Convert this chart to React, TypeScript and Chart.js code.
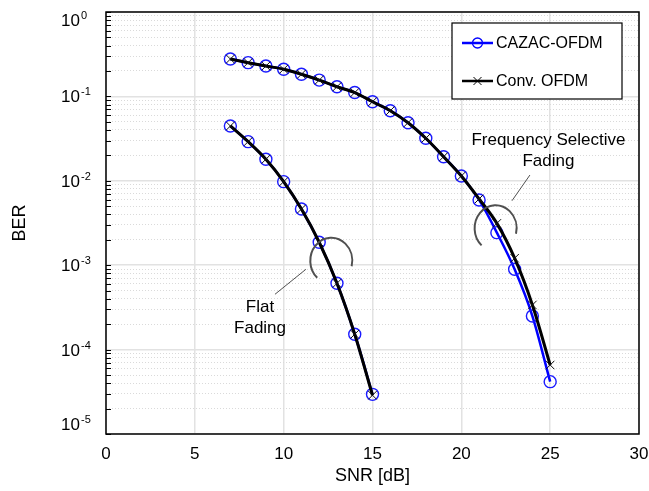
import React, { useEffect, useRef } from 'react';
import { Chart, registerables } from 'chart.js';

Chart.register(...registerables);

// ---------- data ----------
const snrFreqSel = [7, 8, 9, 10, 11, 12, 13, 14, 15, 16, 17, 18, 19, 20, 21, 22, 23, 24, 25];
const cazacFreqSel = [0.277, 0.251, 0.229, 0.21, 0.183, 0.156, 0.13, 0.111, 0.0865, 0.0677, 0.0488, 0.0319, 0.0193, 0.0114, 0.00593, 0.00243, 0.000894, 0.00025, 0.0000417];
const convFreqSel = [0.277, 0.251, 0.229, 0.21, 0.183, 0.156, 0.13, 0.111, 0.0865, 0.0677, 0.0488, 0.0319, 0.0193, 0.0114, 0.0061, 0.00313, 0.00121, 0.000338, 0.0000657];

const snrFlat = [7, 8, 9, 10, 11, 12, 13, 14, 15];
const cazacFlat = [0.0446, 0.0291, 0.018, 0.00977, 0.00463, 0.00187, 0.00061, 0.000152, 0.0000295];
const convFlat = [0.0446, 0.0291, 0.018, 0.00977, 0.00463, 0.00187, 0.00061, 0.000152, 0.0000288];

const xTickValues = [0, 5, 10, 15, 20, 25, 30];
const yDecadeExponents = [0, -1, -2, -3, -4, -5];
const yMantissas = [1, 2, 3, 4, 5, 6, 7, 8, 9];

const seriesNames = ['CAZAC-OFDM', 'Conv. OFDM'];
const xTitle = 'SNR [dB]';
const yTitle = 'BER';
const freqLabel = ['Frequency Selective', 'Fading'];
const flatLabel = ['Flat', 'Fading'];

// annotation anchors in data units
const freqTextAnchor = { x: 24.9, y: 0.0304 };
const freqLeader = [{ x: 23.86, y: 0.0117 }, { x: 22.85, y: 0.0058 }];
const freqArcCenter = { x: 21.93, y: 0.00274 };
const flatTextAnchor = { x: 8.67, y: 0.00032 };
const flatLeader = [{ x: 11.25, y: 0.000894 }, { x: 9.51, y: 0.000452 }];
const flatArcCenter = { x: 12.68, y: 0.00113 };

const FONT = '"Liberation Sans", Arial, Helvetica, sans-serif';
const BLUE = '#0000ff';
const BLACK = '#000000';

const zip = (xs: number[], ys: number[]) => xs.map((x, i) => ({ x, y: ys[i] }));

const isMajor = (v: number) => {
  const l = Math.log10(v);
  return Math.abs(l - Math.round(l)) < 1e-6;
};

const overlayPlugin = {
  id: 'overlay',
  afterDatasetsDraw(chart: any) {
    const ctx = chart.ctx;
    const xs = chart.scales.x;
    const ys = chart.scales.y;
    const px = (p: { x: number; y: number }) => [xs.getPixelForValue(p.x), ys.getPixelForValue(p.y)];
    ctx.save();
    ctx.strokeStyle = '#505050';
    ctx.lineWidth = 2;
    for (const c of [freqArcCenter, flatArcCenter]) {
      const [cx, cy] = px(c);
      ctx.beginPath();
      ctx.ellipse(cx, cy, 21, 23, 0, (132 * Math.PI) / 180, (374 * Math.PI) / 180, false);
      ctx.stroke();
    }
    ctx.lineWidth = 1;
    for (const seg of [freqLeader, flatLeader]) {
      const [x1, y1] = px(seg[0]);
      const [x2, y2] = px(seg[1]);
      ctx.beginPath();
      ctx.moveTo(x1, y1);
      ctx.lineTo(x2, y2);
      ctx.stroke();
    }
    ctx.fillStyle = '#000';
    ctx.font = `17px ${FONT}`;
    ctx.textAlign = 'center';
    ctx.textBaseline = 'middle';
    for (const [anchor, lines] of [[freqTextAnchor, freqLabel], [flatTextAnchor, flatLabel]] as any) {
      const [tx, ty] = px(anchor);
      lines.forEach((t: string, i: number) => ctx.fillText(t, tx, ty + i * 21));
    }
    ctx.restore();
  },
  afterDraw(chart: any) {
    const ctx = chart.ctx;
    const area = chart.chartArea;
    const ys = chart.scales.y;
    ctx.save();

    ctx.strokeStyle = '#000';
    ctx.lineWidth = 1;
    ys.ticks.forEach((t: any) => {
      const y = Math.round(ys.getPixelForValue(t.value)) + 0.5;
      ctx.beginPath();
      ctx.moveTo(area.left, y);
      ctx.lineTo(area.left + 5, y);
      ctx.stroke();
    });

    ctx.lineWidth = 1.5;
    ctx.strokeStyle = '#000';
    ctx.strokeRect(area.left, area.top, area.right - area.left, area.bottom - area.top);

    ctx.fillStyle = '#000';
    yDecadeExponents.forEach((e, i) => {
      let y = ys.getPixelForValue(Math.pow(10, e));
      if (i === 0) y += 8;
      if (i === yDecadeExponents.length - 1) y -= 10;
      const base = y + 6;
      ctx.font = `17px ${FONT}`;
      ctx.textAlign = 'right';
      ctx.textBaseline = 'alphabetic';
      ctx.fillText('10', 80, base);
      ctx.font = `11px ${FONT}`;
      ctx.textAlign = 'left';
      ctx.fillText(String(e), 81, base - 7);
    });

    ctx.font = `18px ${FONT}`;
    ctx.textAlign = 'center';
    ctx.textBaseline = 'middle';
    ctx.fillText(xTitle, (area.left + area.right) / 2, 476);
    ctx.save();
    ctx.translate(20, (area.top + area.bottom) / 2);
    ctx.rotate(-Math.PI / 2);
    ctx.fillText(yTitle, 0, 0);
    ctx.restore();

    const bw = 170, bh = 76;
    const bx = area.right - 17 - bw;
    const by = area.top + 11;
    ctx.fillStyle = '#fff';
    ctx.fillRect(bx, by, bw, bh);
    ctx.lineWidth = 1.2;
    ctx.strokeStyle = '#000';
    ctx.strokeRect(bx, by, bw, bh);
    const rows = [by + 20, by + 58];
    const colors = [BLUE, BLACK];
    rows.forEach((ry, i) => {
      ctx.strokeStyle = colors[i];
      ctx.lineWidth = 2.5;
      ctx.beginPath();
      ctx.moveTo(bx + 10, ry);
      ctx.lineTo(bx + 41, ry);
      ctx.stroke();
      const mx = bx + 25.5;
      if (i === 0) {
        ctx.lineWidth = 1.3;
        ctx.beginPath();
        ctx.arc(mx, ry, 5, 0, Math.PI * 2);
        ctx.stroke();
      } else {
        ctx.lineWidth = 1;
        ctx.beginPath();
        ctx.moveTo(mx - 4, ry - 4);
        ctx.lineTo(mx + 4, ry + 4);
        ctx.moveTo(mx - 4, ry + 4);
        ctx.lineTo(mx + 4, ry - 4);
        ctx.stroke();
      }
      ctx.fillStyle = '#000';
      ctx.font = `16px ${FONT}`;
      ctx.textAlign = 'left';
      ctx.textBaseline = 'middle';
      ctx.fillText(seriesNames[i], bx + 44, ry + 1);
    });

    ctx.restore();
  },
};

export default function App() {
  const canvasRef = useRef<HTMLCanvasElement | null>(null);

  useEffect(() => {
    if (!canvasRef.current) return;
    const cazacStyle = {
      borderColor: BLUE,
      borderWidth: 2.5,
      pointStyle: 'circle',
      pointRadius: 6,
      pointBorderColor: '#1a1aff',
      pointBackgroundColor: 'rgba(0,0,0,0)',
      pointBorderWidth: 1.4,
      cubicInterpolationMode: 'monotone',
      fill: false,
      order: 1,
    };
    const convStyle = {
      borderColor: BLACK,
      borderWidth: 3,
      pointStyle: 'crossRot',
      pointRadius: 6,
      pointBorderColor: '#111',
      pointBackgroundColor: 'rgba(0,0,0,0)',
      pointBorderWidth: 1,
      cubicInterpolationMode: 'monotone',
      fill: false,
      order: 0,
    };
    const chart = new Chart(canvasRef.current, {
      type: 'line',
      data: {
        datasets: [
          { label: seriesNames[0], data: zip(snrFreqSel, cazacFreqSel), ...cazacStyle } as any,
          { label: seriesNames[0] + ' flat', data: zip(snrFlat, cazacFlat), ...cazacStyle } as any,
          { label: seriesNames[1], data: zip(snrFreqSel, convFreqSel), ...convStyle } as any,
          { label: seriesNames[1] + ' flat', data: zip(snrFlat, convFlat), ...convStyle } as any,
        ],
      },
      options: {
        animation: false,
        responsive: false,
        maintainAspectRatio: false,
        layout: { padding: { top: 12, right: 10, left: 0, bottom: 0 } },
        plugins: { legend: { display: false }, tooltip: { enabled: false }, title: { display: false } },
        scales: {
          x: {
            type: 'linear',
            min: 0,
            max: 30,
            afterBuildTicks: (s: any) => {
              s.ticks = xTickValues.map((v) => ({ value: v }));
            },
            afterFit: (s: any) => {
              s.height = 57;
              s.paddingRight = 0;
              s.paddingLeft = 0;
            },
            ticks: {
              color: '#000',
              font: { family: FONT, size: 17 },
              padding: 10,
              maxRotation: 0,
              callback: (v: any) => String(v),
            },
            grid: { color: '#e2e2e2', lineWidth: 1.5, drawTicks: false },
            border: { display: false },
          },
          y: {
            type: 'logarithmic',
            min: 1e-5,
            max: 1,
            afterBuildTicks: (s: any) => {
              const t: any[] = [];
              yDecadeExponents.forEach((e) => {
                yMantissas.forEach((m) => {
                  const v = m * Math.pow(10, e);
                  if (v <= 1 + 1e-9 && v >= 1e-5 - 1e-12) t.push({ value: v, major: m === 1 });
                });
              });
              s.ticks = t;
            },
            afterFit: (s: any) => {
              s.width = 106;
            },
            ticks: { display: false },
            grid: {
              drawTicks: false,
              color: (c: any) => (c.tick && isMajor(c.tick.value) ? '#e2e2e2' : '#dadada'),
              lineWidth: (c: any) => (c.tick && isMajor(c.tick.value) ? 1.5 : 1),
            },
            border: {
              display: false,
              dash: (c: any) => (c.tick && !isMajor(c.tick.value) ? [1, 2] : []),
            },
          },
        },
      } as any,
      plugins: [overlayPlugin],
    });
    return () => chart.destroy();
  }, []);

  return (
    <div style={{ position: 'fixed', left: 0, top: 0, width: 649, height: 491, background: '#fff' }}>
      <canvas ref={canvasRef} width={649} height={491} style={{ width: 649, height: 491, display: 'block' }} />
    </div>
  );
}
